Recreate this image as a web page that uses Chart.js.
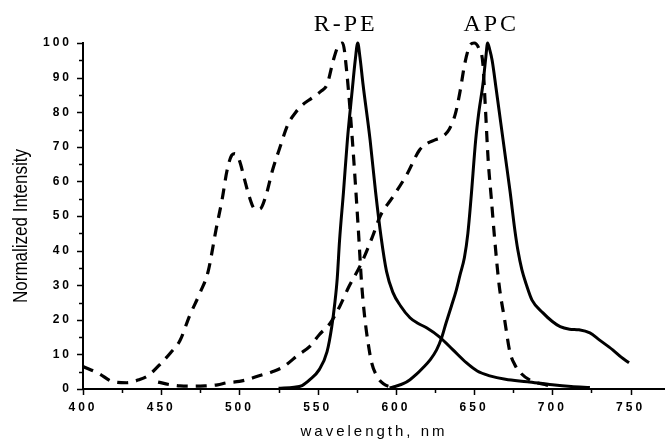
<!DOCTYPE html>
<html>
<head>
<meta charset="utf-8">
<script src="https://cdn.jsdelivr.net/npm/chart.js@4"></script>
<style>
  body { margin: 0; background: #fff; }
  canvas { display: block; }
</style>
</head>
<body>
<canvas id="ChartCanvas" width="665" height="442"></canvas>
<script>
// R-PE excitation (dashed)
const rpeExX = [400, 410, 420, 428, 436, 442, 450, 456, 462, 468, 475, 480, 485, 489, 492, 495, 497, 500, 503, 506, 510, 513, 517, 521, 526, 531, 536, 540, 546, 552, 556, 560, 563, 566, 568.5, 572, 574, 576, 578, 580, 582, 584.5, 588, 592, 596, 600]
const rpeExY = [6.5, 4.5, 2, 1.8, 2.7, 4, 7.5, 10.5, 14, 21, 28, 34, 46, 55, 63, 67.5, 68, 66, 61, 56, 52, 52, 56, 63, 70, 76.5, 80, 82, 84, 86, 88, 95, 99, 100, 92, 73, 60, 46, 31, 21, 14, 7.6, 3.6, 1.5, 0.7, 0.5]

// APC excitation (dashed)
const apcExX = [448, 455, 462, 470, 478, 486, 492, 500, 505, 511, 521, 528, 538, 545, 551, 558, 564, 570, 578, 585, 590, 598, 607, 615, 620, 625, 630, 634, 638, 641, 644, 647, 650, 653, 655.6, 657, 659, 661, 663, 666, 669.5, 672.7, 676, 680, 686, 696, 702]
const apcExY = [2, 1.3, 0.9, 0.8, 0.9, 1.2, 1.8, 2.2, 2.7, 3.6, 5, 6.4, 10, 12.3, 15.7, 19, 23.8, 29.6, 36.4, 44, 50, 55.5, 62, 69, 71, 72, 73, 75, 79.5, 86, 94, 99, 100, 98.5, 94, 83, 66, 55, 44, 30, 20, 11, 7, 4.5, 2.5, 1.2, 0.8]

// R-PE emission (solid)
const rpeEmX = [525, 535, 540, 545, 551, 556, 559, 561, 562.5, 564, 566.5, 569, 572, 574, 575.6, 577, 579, 583.5, 587, 590.5, 594, 598, 603, 609, 614, 619.6, 628, 636.5, 645, 652, 660, 670, 684, 700, 712, 724]
const rpeEmY = [0.2, 0.5, 1, 2.7, 5.6, 10.8, 18, 25, 32, 43, 57, 72, 86, 95, 100, 96, 88, 72, 57, 44, 34, 28, 24, 20.6, 19, 17.7, 15, 11.3, 7.6, 5.2, 3.8, 2.8, 2.1, 1.2, 0.7, 0.4]

// APC emission (solid)
const apcEmX = [596, 600, 605, 609, 613, 617, 622, 626, 629, 632, 635.5, 638.6, 641, 643.8, 646, 648, 651, 653, 655.6, 657.5, 658.6, 660, 661.5, 664, 667, 670, 673, 676, 678, 680.5, 683.5, 687, 694, 700, 705, 711, 717, 724, 730, 738.6, 744, 749]
const apcEmY = [0.3, 0.8, 1.6, 2.7, 4.2, 6, 8.5, 11.3, 14.5, 19, 24, 28.6, 33, 38, 45, 55, 72, 80, 88, 96, 100, 98, 95, 87, 77, 67, 57, 46, 40, 34.5, 30, 25.7, 22, 19.5, 18, 17.3, 17.1, 16.2, 14.2, 11.3, 9.2, 7.6]

const xTicks = [400, 450, 500, 550, 600, 650, 700, 750]
const peakLabels = ['R-PE', 'APC']
const peakAt = [567, 660]
const yTitle = 'Normalized Intensity'

function pts(xs, ys){
    let out = []
    for(let i = 0; i < xs.length; i++){
        out.push({x: xs[i], y: ys[i]})
    }
    return out
}

function line(data, dashed){
    return {
        data: data,
        borderColor: '#000',
        borderWidth: dashed ? 3.2 : 3,
        borderDash: dashed ? [11, 8] : [],
        pointRadius: 0,
        fill: false,
        cubicInterpolationMode: 'monotone',
        clip: 6
    }
}

// minor/major tick marks, y title and the two peak names
const extras = {
    id: 'extras',
    beforeDraw(chart){
        chart.ctx.letterSpacing = '3px'
    },
    afterDraw(chart){
        const ctx = chart.ctx
        const xs = chart.scales.x
        const ys = chart.scales.y
        ctx.save()
        ctx.strokeStyle = '#000'
        ctx.lineWidth = 1.5
        ctx.beginPath()
        for(let v = 400; v <= xs.max; v += 25){
            const px = Math.round(xs.getPixelForValue(v)) + 0.5
            const len = v % 50 == 0 ? 6 : 4
            ctx.moveTo(px, ys.bottom)
            ctx.lineTo(px, ys.bottom + len)
        }
        for(let v = 0; v <= 100; v += 5){
            const py = Math.round(ys.getPixelForValue(v)) + 0.5
            const len = v % 10 == 0 ? 6 : 4
            ctx.moveTo(xs.left, py)
            ctx.lineTo(xs.left - len, py)
        }
        ctx.stroke()
        ctx.fillStyle = '#000'

        ctx.font = '24px "Liberation Serif"'
        ctx.letterSpacing = '3px'
        ctx.textAlign = 'center'
        ctx.textBaseline = 'alphabetic'
        for(let i = 0; i < peakLabels.length; i++){
            ctx.fillText(peakLabels[i], xs.getPixelForValue(peakAt[i]) + 1.5, 31)
        }

        // y title, a bit wider than tall like the original
        ctx.letterSpacing = '0px'
        ctx.font = '17px "Liberation Sans"'
        ctx.translate(21, (ys.top + ys.bottom) / 2 + 10)
        ctx.rotate(-Math.PI / 2)
        ctx.scale(1, 1.2)
        ctx.textBaseline = 'middle'
        ctx.fillText(yTitle, 0, 0)
        ctx.restore()
    }
}

function initChart(){
    const ctx = document.getElementById('ChartCanvas').getContext('2d')
    chart = new Chart(ctx, {
        type: 'line',
        data: {
            datasets: [
                line(pts(rpeExX, rpeExY), true),
                line(pts(apcExX, apcExY), true),
                line(pts(rpeEmX, rpeEmY), false),
                line(pts(apcEmX, apcEmY), false)
            ]
        },
        options: {
            responsive: false,
            animation: false,
            layout: { padding: { top: 43, right: 0, left: 0, bottom: 0 } },
            plugins: {
                legend: { display: false },
                tooltip: { enabled: false }
            },
            scales: {
                x: {
                    type: 'linear',
                    min: 400,
                    max: 772,
                    afterBuildTicks: (s) => { s.ticks = xTicks.map(v => ({value: v})) },
                    afterFit: (s) => { s.height = 53 },
                    grid: { display: true, drawOnChartArea: false, drawTicks: false },
                    border: { display: true, color: '#000', width: 2 },
                    ticks: {
                        padding: 11,
                        color: '#000',
                        maxRotation: 0,
                        font: { family: 'Liberation Sans', size: 12, weight: 'bold' }
                    },
                    title: {
                        display: true,
                        text: 'wavelength, nm',
                        color: '#000',
                        padding: { top: 0, bottom: 1 },
                        font: { family: 'Liberation Sans', size: 15 }
                    }
                },
                y: {
                    min: 0,
                    max: 100,
                    afterFit: (s) => { s.width = 83 },
                    grid: { display: true, drawOnChartArea: false, drawTicks: false },
                    border: { display: true, color: '#000', width: 2 },
                    ticks: {
                        stepSize: 10,
                        padding: 11,
                        color: '#000',
                        font: { family: 'Liberation Sans', size: 12, weight: 'bold' }
                    }
                }
            }
        },
        plugins: [extras]
    })
}

let chart = null
initChart()
</script>
</body>
</html>
